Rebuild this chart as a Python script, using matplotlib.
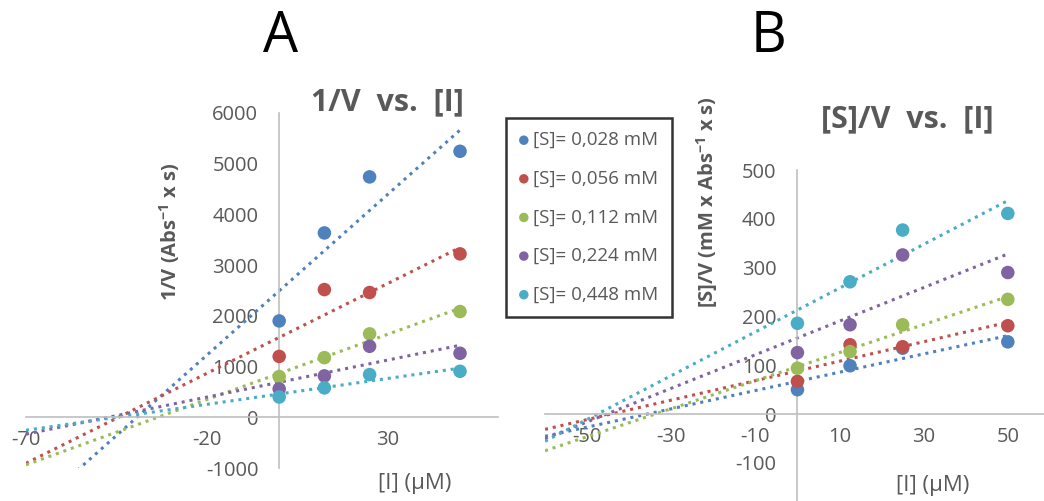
import numpy as np
import matplotlib.pyplot as plt

# [I] in uM
inhibitor = [0, 12.5, 25, 50]

series_labels = [
    "[S]= 0,028 mM",
    "[S]= 0,056 mM",
    "[S]= 0,112 mM",
    "[S]= 0,224 mM",
    "[S]= 0,448 mM",
]

# 1/V (Abs^-1 x s), panel A
inv_v_028 = [1900, 3635, 4740, 5245]
inv_v_056 = [1200, 2518, 2460, 3222]
inv_v_112 = [803, 1176, 1645, 2085]
inv_v_224 = [560, 816, 1400, 1262]
inv_v_448 = [400, 580, 842, 907]

# [S]/V (mM x Abs^-1 x s), panel B
s_v_028 = [50, 99, 135, 148]
s_v_056 = [67, 142, 138, 181]
s_v_112 = [94, 128, 183, 235]
s_v_224 = [126, 183, 326, 290]
s_v_448 = [186, 271, 377, 411]

colors = ["#4F81BD", "#C0504D", "#9BBB59", "#8064A2", "#4BACC6"]

ticks_a_x = [-70, -20, 30]
ticks_a_y = [-1000, 0, 1000, 2000, 3000, 4000, 5000, 6000]
ticks_b_x = [-50, -30, -10, 10, 30, 50]
ticks_b_y = [-100, 0, 100, 200, 300, 400, 500]

GRAY = "#595959"
AXIS = "#BFBFBF"
W, H = 1044, 501

plt.rcParams["font.family"] = ["Open Sans", "DejaVu Sans"]
plt.rcParams["mathtext.default"] = "regular"
plt.rcParams["axes.unicode_minus"] = False


def px_box(left, right, top, bottom):
    return [left / W, 1 - bottom / H, (right - left) / W, (bottom - top) / H]


def style_axis(ax, xticks, yticks):
    for side in ["top", "right"]:
        ax.spines[side].set_visible(False)
    ax.spines["left"].set_position(("data", 0))
    ax.spines["bottom"].set_position(("data", 0))
    for side in ["left", "bottom"]:
        ax.spines[side].set_color(AXIS)
        ax.spines[side].set_linewidth(1.2)
    ax.set_xticks(xticks)
    ax.set_yticks(yticks)
    ax.tick_params(axis="both", length=0, labelsize=14.5, labelcolor=GRAY)
    ax.tick_params(axis="y", pad=15)
    ax.tick_params(axis="x", pad=9)
    ax.patch.set_alpha(0)


def draw_panel(ax, data, x_start):
    handles = []
    for vals, color, label in zip(data, colors, series_labels):
        slope, icpt = np.polyfit(inhibitor, vals, 1)
        xs = np.array([x_start, max(inhibitor)])
        ax.plot(xs, slope * xs + icpt, color=color, lw=2.2,
                linestyle=(0, (1, 1.6)), zorder=2)
        h = ax.scatter(inhibitor, vals, s=95, color=color, edgecolors="none",
                       zorder=3, label=label)
        handles.append(h)
    return handles


def main():
    fig = plt.figure(figsize=(W / 100, H / 100), dpi=100)

    # panel A
    ax_a = fig.add_axes(px_box(26, 498, 113, 468))
    data_a = [inv_v_028, inv_v_056, inv_v_112, inv_v_224, inv_v_448]
    handles = draw_panel(ax_a, data_a, -70)
    ax_a.set_xlim(-70, 60.5)
    ax_a.set_ylim(-1000, 6000)
    style_axis(ax_a, ticks_a_x, ticks_a_y)

    # panel B
    ax_b = fig.add_axes(px_box(545, 1044, 170, 501))
    data_b = [s_v_028, s_v_056, s_v_112, s_v_224, s_v_448]
    draw_panel(ax_b, data_b, -60)
    ax_b.set_xlim(-60, 58.6)
    ax_b.set_ylim(-178, 500)
    style_axis(ax_b, ticks_b_x, ticks_b_y)

    # panel letters and titles
    fig.text(281 / W, 1 - 38 / H, "A", fontsize=40, ha="center", va="center")
    fig.text(768 / W, 1 - 38 / H, "B", fontsize=40, ha="center", va="center")
    fig.text(387 / W, 1 - 102 / H, "1/V  vs.  [I]", fontsize=22, fontweight="bold",
             color=GRAY, ha="center", va="center")
    fig.text(907 / W, 1 - 119 / H, "[S]/V  vs.  [I]", fontsize=22, fontweight="bold",
             color=GRAY, ha="center", va="center")

    # axis titles
    fig.text(170 / W, 1 - 232 / H, r"1/V (Abs$^{-1}$ x s)", fontsize=14.5,
             fontweight="bold", color=GRAY, rotation=90, ha="center", va="center")
    fig.text(707 / W, 1 - 202 / H, r"[S]/V (mM x Abs$^{-1}$ x s)", fontsize=14.5,
             fontweight="bold", color=GRAY, rotation=90, ha="center", va="center")
    fig.text(415 / W, 1 - 484 / H, "[I] (µM)", fontsize=16, color=GRAY,
             ha="center", va="center")
    fig.text(933 / W, 1 - 486 / H, "[I] (µM)", fontsize=16, color=GRAY,
             ha="center", va="center")

    leg = fig.legend(handles=handles, loc="upper left",
                     bbox_to_anchor=(506 / W, 1 - 118 / H), fontsize=13.5,
                     frameon=True, fancybox=False, markerscale=0.7,
                     handlelength=0.5, handletextpad=0.25, labelspacing=1.1,
                     borderpad=0.7, borderaxespad=0)
    for t in leg.get_texts():
        t.set_color(GRAY)
    frame = leg.get_frame()
    frame.set_edgecolor("black")
    frame.set_linewidth(1.8)

    fig.savefig("out.png", dpi=100)
    plt.close(fig)


if __name__ == "__main__":
    main()
